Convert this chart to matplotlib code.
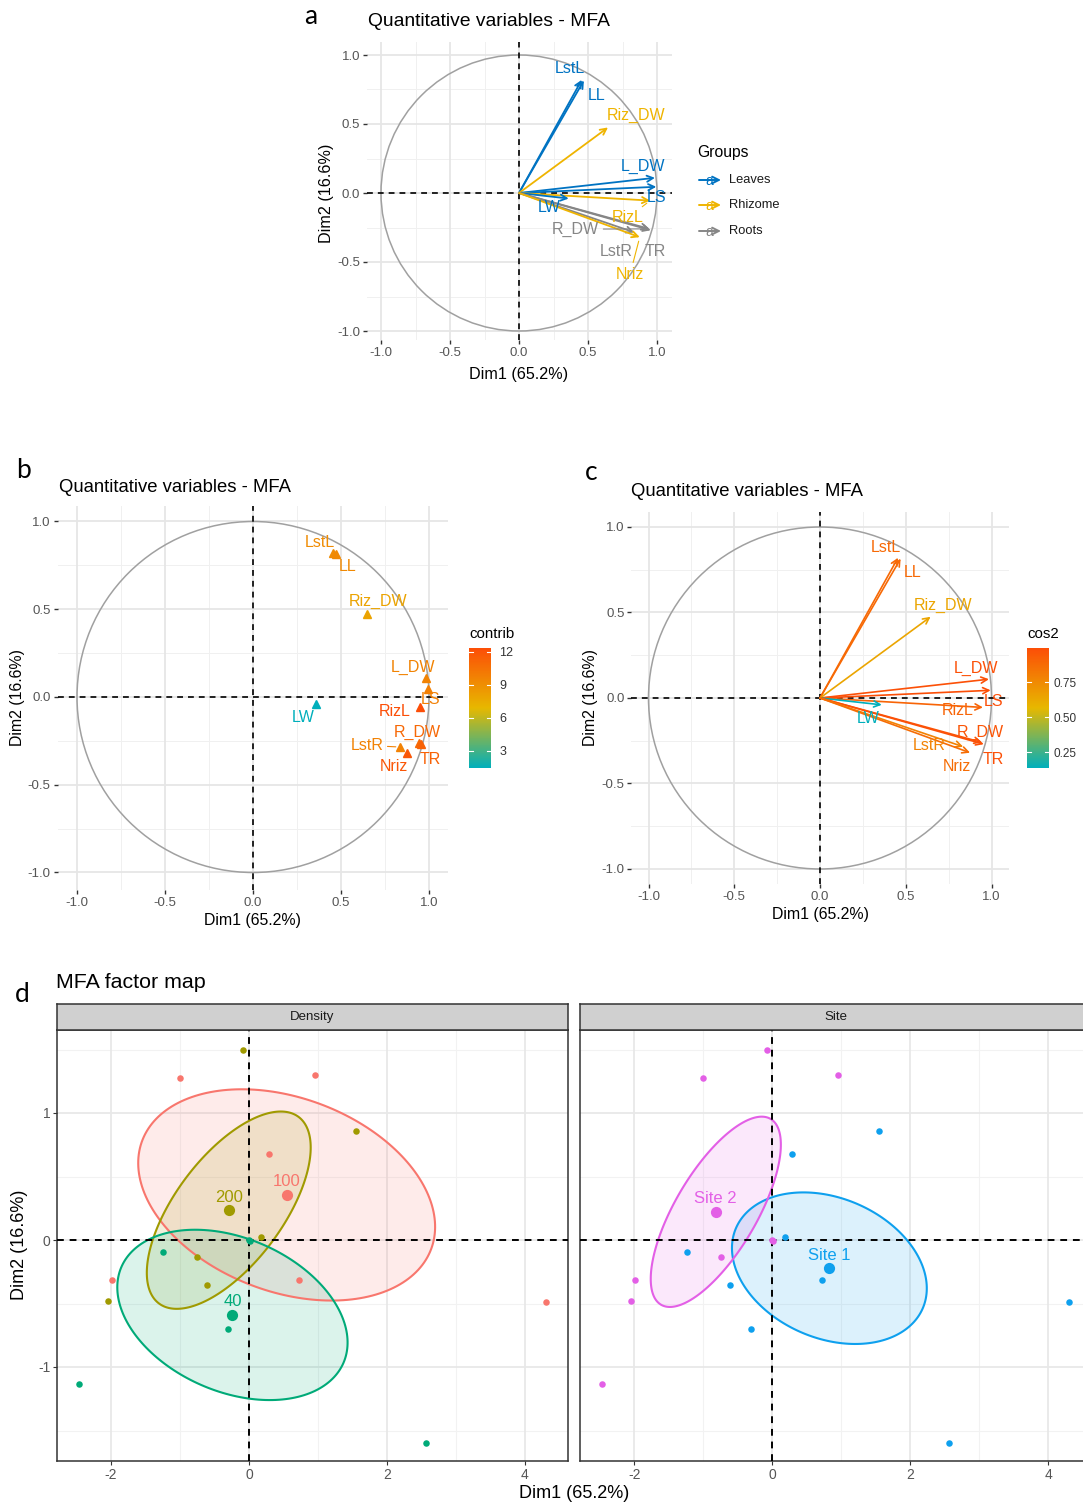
import numpy as np
import matplotlib
matplotlib.use('Agg')
import matplotlib.pyplot as plt
from matplotlib.colors import LinearSegmentedColormap, Normalize
from matplotlib.cm import ScalarMappable
from matplotlib.patches import Circle, Polygon
from matplotlib import rcParams

rcParams['font.family'] = ['Liberation Sans', 'DejaVu Sans']
rcParams['axes.unicode_minus'] = False

# quantitative variables: coordinates on the first two MFA dimensions
variables = ['LstL', 'LL', 'Riz_DW', 'L_DW', 'LS', 'RizL', 'LW', 'R_DW', 'TR', 'LstR', 'Nriz']
var_group = ['Leaves', 'Leaves', 'Rhizome', 'Leaves', 'Leaves', 'Rhizome',
             'Leaves', 'Roots', 'Roots', 'Roots', 'Rhizome']
dim1 = [0.455, 0.47, 0.645, 0.985, 0.995, 0.95, 0.36, 0.945, 0.955, 0.835, 0.875]
dim2 = [0.82, 0.815, 0.475, 0.11, 0.045, -0.055, -0.04, -0.26, -0.27, -0.285, -0.32]
contrib = [9.2, 9.3, 8.0, 9.6, 9.8, 12.36, 1.45, 11.0, 11.3, 9.7, 11.9]
cos2 = [0.88, 0.885, 0.64, 0.98, 0.993, 0.905, 0.136, 0.96, 0.985, 0.78, 0.868]

# individuals (factor map) with their two grouping factors
ind_dim1 = [-1.00, 0.955, 0.29, 0.72, -1.99, 4.30,
            -0.08, 1.55, 0.18, -0.75, -0.61, -2.05,
            -1.24, -0.31, -2.465, 2.565, 0.0, 0.01]
ind_dim2 = [1.277, 1.30, 0.677, -0.317, -0.317, -0.49,
            1.495, 0.862, 0.022, -0.135, -0.357, -0.478,
            -0.097, -0.70, -1.134, -1.598, 0.0, -0.01]
density = ['100'] * 6 + ['200'] * 6 + ['40'] * 6
site = ['Site 2', 'Site 2', 'Site 1', 'Site 1', 'Site 2', 'Site 1',
        'Site 2', 'Site 1', 'Site 1', 'Site 2', 'Site 1', 'Site 2',
        'Site 1', 'Site 1', 'Site 2', 'Site 1', 'Site 2', 'Site 2']

group_cols = {'Leaves': '#0073C2', 'Rhizome': '#EFB400', 'Roots': '#868686'}
density_cols = {'100': '#F8766D', '200': '#A09A00', '40': '#00AA78'}
site_cols = {'Site 1': '#0EA0EE', 'Site 2': '#E35FE6'}
grad = LinearSegmentedColormap.from_list('grad', ['#00AFBB', '#E7B800', '#FC4E07'])

W, H = 1083, 1504
fig = plt.figure(figsize=(W / 100, H / 100), dpi=100)


def px_axes(ox, oy, sx, sy, xlim, ylim):
    # axes placed so that data (0, 0) lands on pixel (ox, oy)
    x0 = ox + xlim[0] * sx
    x1 = ox + xlim[1] * sx
    y0 = oy - ylim[1] * sy
    y1 = oy - ylim[0] * sy
    ax = fig.add_axes([x0 / W, 1 - y1 / H, (x1 - x0) / W, (y1 - y0) / H])
    ax.set_xlim(*xlim)
    ax.set_ylim(*ylim)
    return ax


def var_frame(ax):
    for v in [-0.75, -0.25, 0.25, 0.75]:
        ax.axvline(v, color='#F0F0F0', lw=0.7, zorder=0)
        ax.axhline(v, color='#F0F0F0', lw=0.7, zorder=0)
    for v in [-1, -0.5, 0, 0.5, 1]:
        ax.axvline(v, color='#E6E6E6', lw=1.3, zorder=0)
        ax.axhline(v, color='#E6E6E6', lw=1.3, zorder=0)
    ax.add_patch(Circle((0, 0), 1, fill=False, ec='#A0A0A0', lw=1.1, zorder=1))
    ax.axhline(0, color='black', lw=1.2, ls=(0, (3.5, 3)), zorder=2)
    ax.axvline(0, color='black', lw=1.2, ls=(0, (3.5, 3)), zorder=2)
    ticks = [-1.0, -0.5, 0.0, 0.5, 1.0]
    ax.set_xticks(ticks)
    ax.set_yticks(ticks)
    ax.set_xticklabels(['%.1f' % t for t in ticks])
    ax.set_yticklabels(['%.1f' % t for t in ticks])
    ax.tick_params(length=3, width=1, color='#333333', labelsize=9.5,
                   labelcolor='#555555', pad=2)
    for s in ax.spines.values():
        s.set_visible(False)
    ax.set_facecolor('none')


def arrow(ax, x, y, col, lw=1.3):
    ax.annotate('', xy=(x, y), xytext=(0, 0),
                arrowprops=dict(arrowstyle='->', color=col, lw=lw,
                                shrinkA=0, shrinkB=0, mutation_scale=11),
                zorder=3)


def var_label(ax, name, pos, tip, col, seg=False):
    props = None
    if seg:
        props = dict(arrowstyle='-', color=col, lw=0.8, shrinkA=1, shrinkB=3)
    ax.annotate(name, xy=tip, xytext=pos, color=col, fontsize=11.5,
                ha='center', va='center', arrowprops=props, zorder=4)


# ---- panel a: variables coloured by group
lab_a = [(0.37, 0.905), (0.565, 0.71), (0.85, 0.56), (0.9, 0.195), (0.995, -0.035),
         (0.79, -0.18), (0.22, -0.105), (0.41, -0.262), (0.99, -0.425),
         (0.705, -0.425), (0.805, -0.588)]
seg_a = ['RizL', 'R_DW', 'Nriz']
ax = px_axes(519, 193, 138, 138, (-1.1, 1.11), (-1.065, 1.094))
var_frame(ax)
for i, name in enumerate(variables):
    c = group_cols[var_group[i]]
    arrow(ax, dim1[i], dim2[i], c)
for i, name in enumerate(variables):
    c = group_cols[var_group[i]]
    var_label(ax, name, lab_a[i], (dim1[i], dim2[i]), c, name in seg_a)

# ---- panel b: variable points coloured by contribution
lab_b = [(0.378, 0.88), (0.535, 0.743), (0.712, 0.542), (0.908, 0.167), (1.01, -0.017),
         (0.804, -0.08), (0.284, -0.114), (0.931, -0.2), (1.006, -0.356),
         (0.647, -0.276), (0.798, -0.394)]
cnorm = Normalize(min(contrib), max(contrib))
ax = px_axes(253, 697, 176, 175.5, (-1.11, 1.11), (-1.1, 1.09))
var_frame(ax)
for i, name in enumerate(variables):
    c = grad(cnorm(contrib[i]))
    ax.plot(dim1[i], dim2[i], marker='^', ms=5.5, color=c, ls='none', zorder=3)
    var_label(ax, name, lab_b[i], (dim1[i], dim2[i]), c, name == 'LstR')

# ---- panel c: variable arrows coloured by cos2
lab_c = [(0.383, 0.883), (0.543, 0.733), (0.72, 0.542), (0.909, 0.172), (1.012, -0.023),
         (0.80, -0.076), (0.282, -0.121), (0.934, -0.199), (1.01, -0.359),
         (0.636, -0.277), (0.80, -0.40)]
qnorm = Normalize(min(cos2), max(cos2))
ax = px_axes(820, 698, 171.5, 171, (-1.1, 1.1), (-1.09, 1.09))
var_frame(ax)
for i, name in enumerate(variables):
    arrow(ax, dim1[i], dim2[i], grad(qnorm(cos2[i])), lw=1.2)
for i, name in enumerate(variables):
    var_label(ax, name, lab_c[i], (dim1[i], dim2[i]), grad(qnorm(cos2[i])))

# colour bars
for box, norm, ticks, fmt, fs, pad in [
        ((469, 648, 491, 768), cnorm, [3, 6, 9, 12], '%d', 9, 6),
        ((1027, 648, 1049, 768), qnorm, [0.25, 0.5, 0.75], '%.2f', 8.5, 3)]:
    x0, y0, x1, y1 = box
    cax = fig.add_axes([x0 / W, 1 - y1 / H, (x1 - x0) / W, (y1 - y0) / H])
    cb = fig.colorbar(ScalarMappable(norm=norm, cmap=grad), cax=cax)
    cb.outline.set_visible(False)
    cb.set_ticks(ticks)
    cb.set_ticklabels([fmt % t for t in ticks])
    cax.tick_params(length=0, labelsize=fs, labelcolor='#333333', pad=pad)
    for t in ticks:
        cax.plot([0, 0.2], [t, t], color='white', lw=0.8, transform=cax.get_yaxis_transform())
        cax.plot([0.8, 1], [t, t], color='white', lw=0.8, transform=cax.get_yaxis_transform())


# ---- panel d: individuals factor map, one facet per grouping factor
def conf_ellipse(x, y, n=200):
    x = np.asarray(x)
    y = np.asarray(y)
    S = np.cov(np.vstack([x, y])) / len(x)
    t = np.sqrt(-2 * np.log(0.05))  # 95% chi-square quantile, 2 df
    vals, vecs = np.linalg.eigh(S)
    th = np.linspace(0, 2 * np.pi, n)
    circ = np.vstack([np.cos(th), np.sin(th)])
    pts = vecs @ (np.sqrt(vals)[:, None] * circ) * t
    return np.column_stack([x.mean() + pts[0], y.mean() + pts[1]])


def facet(ox, factor, cols, label_y):
    ax = px_axes(ox, 1240, 69, 127, (-2.78, 4.62), (-1.74, 1.65))
    for v in [-1, 1, 3]:
        ax.axvline(v, color='#F2F2F2', lw=0.8, zorder=0)
    for v in [-1.5, -0.5, 0.5, 1.5]:
        ax.axhline(v, color='#F2F2F2', lw=0.8, zorder=0)
    for v in [-2, 0, 2, 4]:
        ax.axvline(v, color='#E8E8E8', lw=1.3, zorder=0)
    for v in [-1, 0, 1]:
        ax.axhline(v, color='#E8E8E8', lw=1.3, zorder=0)
    x = np.array(ind_dim1)
    y = np.array(ind_dim2)
    f = np.array(factor)
    for lev, c in cols.items():
        m = f == lev
        ell = conf_ellipse(x[m], y[m])
        ax.add_patch(Polygon(ell, closed=True, fc=c, alpha=0.14, ec='none', zorder=1))
        ax.add_patch(Polygon(ell, closed=True, fill=False, ec=c, lw=1.5, zorder=2))
    ax.axhline(0, color='black', lw=1.4, ls=(0, (3.5, 3)), zorder=3)
    ax.axvline(0, color='black', lw=1.4, ls=(0, (3.5, 3)), zorder=3)
    for lev, c in cols.items():
        m = f == lev
        ax.scatter(x[m], y[m], s=22, color=c, zorder=4, lw=0)
        cx, cy = x[m].mean(), y[m].mean()
        ax.scatter([cx], [cy], s=65, color=c, zorder=5, lw=0)
        ax.annotate(lev, xy=(cx, cy), xytext=(0, 4), textcoords='offset points',
                    ha='center', va='bottom', color=c, fontsize=12, zorder=6)
    ax.set_xticks([-2, 0, 2, 4])
    ax.set_yticks([-1, 0, 1])
    ax.tick_params(length=3, color='#333333', labelsize=10, labelcolor='#555555', pad=2)
    if not label_y:
        ax.set_yticklabels([])
        ax.tick_params(axis='y', length=0)
    for s in ax.spines.values():
        s.set_color('#333333')
        s.set_linewidth(1.1)
    return ax


facet(249, density, density_cols, True)
facet(772.3, site, site_cols, False)

# strips above the facets
for x0, x1, txt in [(57, 568, 'Density'), (580, 1091, 'Site')]:
    sax = fig.add_axes([x0 / W, 1 - 1030 / H, (x1 - x0) / W, 26 / H])
    sax.set_facecolor('#D0D0D0')
    sax.set_xticks([])
    sax.set_yticks([])
    for s in sax.spines.values():
        s.set_color('#333333')
        s.set_linewidth(1.1)
    sax.text(0.5, 0.5, txt, ha='center', va='center', fontsize=9.5, color='#1A1A1A',
             transform=sax.transAxes)

# overlay in pixel coordinates for titles, axis names and the group legend
ov = fig.add_axes([0, 0, 1, 1])
ov.set_xlim(0, W)
ov.set_ylim(H, 0)
ov.axis('off')

letter_font = ['Lato', 'DejaVu Sans']
for txt, x, y in [('a', 311, 17), ('b', 23, 470), ('c', 591, 473), ('d', 22, 995)]:
    ov.text(x, y, txt, fontsize=19, family=letter_font, ha='center', va='center')

for txt, x, y, fs in [('Quantitative variables - MFA', 368, 22, 13.9),
                      ('Quantitative variables - MFA', 59, 488, 13.3),
                      ('Quantitative variables - MFA', 631, 492, 13.3),
                      ('MFA factor map', 56, 983, 15.4)]:
    ov.text(x, y, txt, fontsize=fs, ha='left', va='center')

for x, y, fs in [(519, 375, 11.6), (253, 920, 11.4), (820, 914, 11.4), (574, 1494, 13)]:
    ov.text(x, y, 'Dim1 (65.2%)', fontsize=fs, ha='center', va='center')
for x, y, fs in [(326, 193, 11.6), (18, 697, 11.4), (590, 698, 11.4), (20, 1245, 13)]:
    ov.text(x, y, 'Dim2 (16.6%)', fontsize=fs, ha='center', va='center', rotation=90)

ov.text(469, 634, 'contrib', fontsize=10.8, ha='left', va='center')
ov.text(1027, 634, 'cos2', fontsize=10.8, ha='left', va='center')

ov.text(697, 152, 'Groups', fontsize=11.3, ha='left', va='center')
for k, (grp, y) in enumerate(zip(['Leaves', 'Rhizome', 'Roots'], [180, 205, 231])):
    c = group_cols[grp]
    ov.annotate('', xy=(721, y), xytext=(699, y),
                arrowprops=dict(arrowstyle='->', color=c, lw=1.4, shrinkA=0, shrinkB=0,
                                mutation_scale=12))
    ov.text(709, y + 1, 'a', color=c, fontsize=10, ha='center', va='center')
    ov.text(729, y, grp, fontsize=9.3, ha='left', va='center', color='#1A1A1A')

fig.savefig('out.png', dpi=100)
